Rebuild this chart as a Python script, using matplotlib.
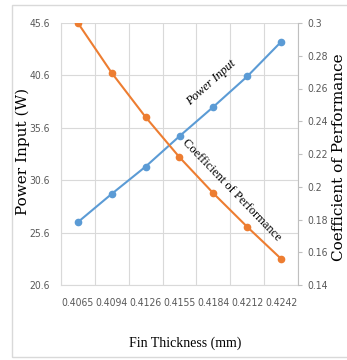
import matplotlib
matplotlib.use("Agg")
import matplotlib.pyplot as plt
from matplotlib.patches import Rectangle
from matplotlib.ticker import FormatStrFormatter, FuncFormatter
import numpy as np

# data
fin_thickness = ["0.4065", "0.4094", "0.4126", "0.4155", "0.4184", "0.4212", "0.4242"]
power_input = [26.6, 29.3, 31.9, 34.8, 37.6, 40.5, 43.8]
cop = [0.300, 0.2695, 0.2425, 0.218, 0.196, 0.1755, 0.156]

blue = "#5B9BD5"
orange = "#ED7D31"
grid_c = "#D9D9D9"
txt_c = "#595959"
sans = ["DejaVu Sans"]
serif = ["Liberation Serif", "DejaVu Serif"]
wide_serif = ["DejaVu Serif"]

dpi = 100
fig = plt.figure(figsize=(347 / dpi, 360 / dpi), dpi=dpi, facecolor="w")
ax = fig.add_axes([61 / 347, 1 - 285 / 360, 237 / 347, 262 / 360])
ax2 = ax.twinx()

x = np.arange(len(fin_thickness))

ax.plot(x, power_input, color=blue, lw=1.5, marker="o", ms=4.5, zorder=3)
ax2.plot(x, cop, color=orange, lw=1.5, marker="o", ms=4.5, zorder=3)

ax.set_xlim(-0.5, len(x) - 0.5)
ax.set_ylim(20.6, 45.6)
ax.set_yticks(np.arange(20.6, 45.7, 5))
ax.yaxis.set_major_formatter(FormatStrFormatter("%.1f"))
ax2.set_ylim(0.14, 0.30)
ax2.set_yticks(np.arange(0.14, 0.301, 0.02))
ax2.yaxis.set_major_formatter(FuncFormatter(lambda v, p: "%g" % round(v, 2)))

ax.set_xticks(x)
ax.set_xticklabels(fin_thickness)
ax.set_xticks(np.arange(-0.5, len(x), 0.5), minor=True)
ax.grid(which="minor", axis="x", color=grid_c, lw=0.8)
ax.grid(which="major", axis="y", color=grid_c, lw=0.8)
ax.set_axisbelow(True)

for a in (ax, ax2):
    for s in a.spines.values():
        s.set_visible(False)
ax.spines["left"].set_visible(True)
ax.spines["left"].set_color(grid_c)
ax.spines["bottom"].set_visible(True)
ax.spines["bottom"].set_color(grid_c)
ax2.spines["right"].set_visible(True)
ax2.spines["right"].set_color("#BFBFBF")

ax.tick_params(axis="both", which="both", length=0, colors=txt_c, labelsize=7.5)
ax.tick_params(axis="x", pad=9)
ax.tick_params(axis="y", pad=8)
ax2.tick_params(axis="y", length=3, color="#BFBFBF", colors=txt_c, labelsize=7.5, pad=4)
for lab in ax.get_xticklabels() + ax.get_yticklabels() + ax2.get_yticklabels():
    lab.set_family(sans)
    lab.set_fontstretch("condensed")

ax.set_ylabel("Power Input (W)", family=wide_serif, fontsize=11, color="black")
ax.yaxis.set_label_coords(-0.131, 0.508)
ax2.set_ylabel("Coefficient of Performance", family=wide_serif, fontsize=11, color="black",
               rotation=90)
ax2.yaxis.set_label_coords(1.143, 0.489)
ax.set_xlabel("Fin Thickness (mm)", family=serif, fontsize=10, color="black")
ax.xaxis.set_label_coords(0.523, -0.195)

ax.text(3.92, 39.9, "Power Input", rotation=42, family=serif, style="italic",
        fontsize=9, ha="center", va="center")
ax.text(4.54, 29.7, "Coefficient of Performance", rotation=-46, family=serif,
        fontsize=9, ha="center", va="center")

# chart area border
fig.patches.append(Rectangle((12 / 347, 3 / 360), 1.0, 352 / 360, transform=fig.transFigure,
                             fill=False, edgecolor=grid_c, lw=1))

fig.savefig("out.png", dpi=dpi)
